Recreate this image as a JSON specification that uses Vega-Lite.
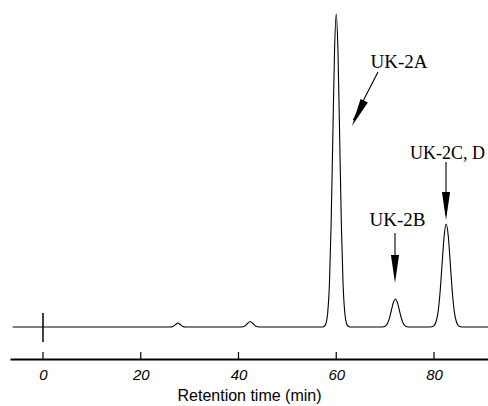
{
  "$schema": "https://vega.github.io/schema/vega-lite/v6.json",
  "width": 478,
  "height": 359,
  "autosize": "none",
  "padding": {"left": 10, "top": 0, "right": 0, "bottom": 47},
  "background": "white",
  "config": {"view": {"stroke": null}},
  "datasets": {
    "trace": [
      {"t": -6.2, "s": 0}, {"t": 26.0, "s": 0}, {"t": 26.6, "s": 0.5}, {"t": 27.1, "s": 2.4}, {"t": 27.6, "s": 4}, {"t": 28.1, "s": 2.4}, {"t": 28.6, "s": 0.5}, {"t": 29.2, "s": 0},
      {"t": 40.6, "s": 0}, {"t": 41.2, "s": 0.7}, {"t": 41.8, "s": 3.3}, {"t": 42.4, "s": 5.5}, {"t": 43.0, "s": 3.3}, {"t": 43.6, "s": 0.7}, {"t": 44.2, "s": 0},
      {"t": 57.2, "s": 0}, {"t": 57.55, "s": 0.7}, {"t": 57.9, "s": 3.5}, {"t": 58.25, "s": 14}, {"t": 58.6, "s": 42}, {"t": 58.95, "s": 102}, {"t": 59.3, "s": 190}, {"t": 59.65, "s": 276}, {"t": 60.0, "s": 313}, {"t": 60.35, "s": 276}, {"t": 60.7, "s": 190}, {"t": 61.05, "s": 102}, {"t": 61.4, "s": 42}, {"t": 61.75, "s": 14}, {"t": 62.1, "s": 3.5}, {"t": 62.45, "s": 0.7}, {"t": 62.8, "s": 0},
      {"t": 69.3, "s": 0}, {"t": 69.7, "s": 0.3}, {"t": 70.1, "s": 1.2}, {"t": 70.5, "s": 3.8}, {"t": 70.9, "s": 9.1}, {"t": 71.3, "s": 17}, {"t": 71.7, "s": 24.7}, {"t": 72.1, "s": 28}, {"t": 72.5, "s": 24.7}, {"t": 72.9, "s": 17}, {"t": 73.3, "s": 9.1}, {"t": 73.7, "s": 3.8}, {"t": 74.1, "s": 1.2}, {"t": 74.5, "s": 0.3}, {"t": 74.9, "s": 0},
      {"t": 79.1, "s": 0}, {"t": 79.525, "s": 0.2}, {"t": 79.95, "s": 1.1}, {"t": 80.375, "s": 4.5}, {"t": 80.8, "s": 13.9}, {"t": 81.225, "s": 33.5}, {"t": 81.65, "s": 62.5}, {"t": 82.075, "s": 90.8}, {"t": 82.5, "s": 103}, {"t": 82.925, "s": 90.8}, {"t": 83.35, "s": 62.5}, {"t": 83.775, "s": 33.5}, {"t": 84.2, "s": 13.9}, {"t": 84.625, "s": 4.5}, {"t": 85.05, "s": 1.1}, {"t": 85.475, "s": 0.2}, {"t": 85.9, "s": 0},
      {"t": 91.05, "s": 0}
    ],
    "inject": [{"t": 0, "lo": -15, "hi": 14}],
    "ticks": [
      {"t": 0, "lo": -32, "hi": -25},
      {"t": 20, "lo": -32, "hi": -25},
      {"t": 40, "lo": -32, "hi": -25},
      {"t": 60, "lo": -32, "hi": -25},
      {"t": 80, "lo": -32, "hi": -25}
    ],
    "shafts": [
      {"t": 68.54, "s": 255, "t2": 63.5, "s2": 207},
      {"t": 72.02, "s": 94, "t2": 72.02, "s2": 50},
      {"t": 82.46, "s": 165, "t2": 82.46, "s2": 112}
    ],
    "headsVertical": [
      {"t": 72.02, "s": 58},
      {"t": 82.46, "s": 121}
    ],
    "headSlanted": [{"t": 64.47, "s": 213.6}],
    "labels": [
      {"t": 72.84, "s": 259, "label": "UK-2A"},
      {"t": 72.53, "s": 101, "label": "UK-2B"}
    ],
    "labelLeft": [{"t": 75.09, "s": 168, "label": "UK-2C, D"}]
  },
  "layer": [
    {
      "data": {"name": "trace"},
      "mark": {"type": "line", "color": "black", "strokeWidth": 1.1, "interpolate": "monotone"},
      "encoding": {
        "x": {
          "field": "t", "type": "quantitative",
          "scale": {"domain": [-6.75, 91.05], "nice": false, "zero": false},
          "axis": {
            "title": "Retention time (min)",
            "values": [0, 20, 40, 60, 80],
            "grid": false,
            "ticks": false,
            "domainColor": "black", "domainWidth": 2,
            "labelFont": "Liberation Sans", "labelFontSize": 15, "labelFontStyle": "italic", "labelColor": "black",
            "labelPadding": 8,
            "titleFont": "Liberation Sans", "titleFontSize": 16, "titleFontWeight": "normal", "titleColor": "black",
            "titlePadding": 5
          }
        },
        "y": {
          "field": "s", "type": "quantitative",
          "scale": {"domain": [-32, 327], "nice": false, "zero": false},
          "axis": null
        }
      }
    },
    {
      "data": {"name": "ticks"},
      "mark": {"type": "rule", "color": "black", "strokeWidth": 1.2},
      "encoding": {
        "x": {"field": "t", "type": "quantitative"},
        "y": {"field": "lo", "type": "quantitative"},
        "y2": {"field": "hi"}
      }
    },
    {
      "data": {"name": "inject"},
      "mark": {"type": "rule", "color": "black", "strokeWidth": 1.5},
      "encoding": {
        "x": {"field": "t", "type": "quantitative"},
        "y": {"field": "lo", "type": "quantitative"},
        "y2": {"field": "hi"}
      }
    },
    {
      "data": {"name": "shafts"},
      "mark": {"type": "rule", "color": "black", "strokeWidth": 1.1},
      "encoding": {
        "x": {"field": "t", "type": "quantitative"},
        "y": {"field": "s", "type": "quantitative"},
        "x2": {"field": "t2"},
        "y2": {"field": "s2"}
      }
    },
    {
      "data": {"name": "headsVertical"},
      "mark": {"type": "point", "shape": "M -0.29 -1 L 0.29 -1 L 0 1 Z", "size": 784, "filled": true, "color": "black", "opacity": 1},
      "encoding": {
        "x": {"field": "t", "type": "quantitative"},
        "y": {"field": "s", "type": "quantitative"}
      }
    },
    {
      "data": {"name": "headSlanted"},
      "mark": {"type": "point", "shape": "M -0.29 -1 L 0.29 -1 L 0 1 Z", "size": 784, "filled": true, "color": "black", "opacity": 1, "angle": 26},
      "encoding": {
        "x": {"field": "t", "type": "quantitative"},
        "y": {"field": "s", "type": "quantitative"}
      }
    },
    {
      "data": {"name": "labels"},
      "mark": {"type": "text", "font": "Liberation Serif", "fontSize": 19, "color": "black", "align": "center", "baseline": "alphabetic"},
      "encoding": {
        "x": {"field": "t", "type": "quantitative"},
        "y": {"field": "s", "type": "quantitative"},
        "text": {"field": "label"}
      }
    },
    {
      "data": {"name": "labelLeft"},
      "mark": {"type": "text", "font": "Liberation Serif", "fontSize": 18, "color": "black", "align": "left", "baseline": "alphabetic"},
      "encoding": {
        "x": {"field": "t", "type": "quantitative"},
        "y": {"field": "s", "type": "quantitative"},
        "text": {"field": "label"}
      }
    }
  ]
}
